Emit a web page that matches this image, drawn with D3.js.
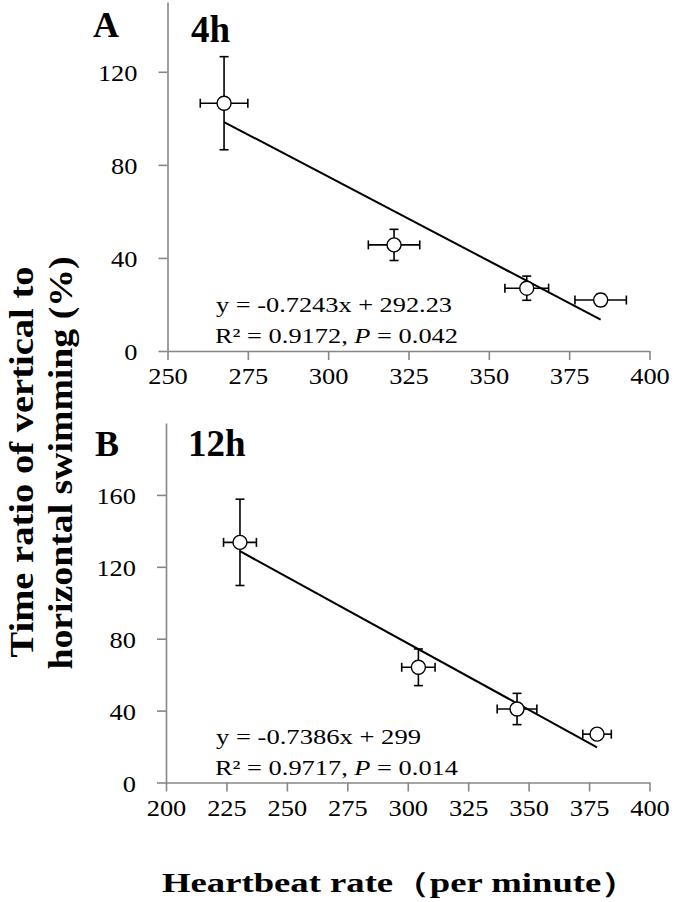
<!DOCTYPE html>
<html>
<head>
<meta charset="utf-8">
<script src="https://cdn.jsdelivr.net/npm/d3@7"></script>
<style>
  html, body { margin: 0; padding: 0; background: #fff; }
  svg { display: block; }
  svg text { font-family: "Liberation Serif", "Times New Roman", serif; fill: #000; }
</style>
</head>
<body>
<svg id="chart" width="675" height="902"></svg>
<script>
// Panel A (4h): heartbeat rate vs time ratio, with SE bars
const rateA   = [267.6, 320.5, 361.8, 384.8];
const ratioA  = [106.5, 45.6, 27.0, 21.9];
const rateErrA  = [7.4, 8.0, 6.8, 8.0];
const ratioErrA = [20.0, 6.7, 5.2, 2.5];
const fitA = { slope: -0.7243, intercept: 292.23 };
const eqA = ['y = -0.7243x + 292.23', '0.9172', '0.042'];

// Panel B (12h)
const rateB   = [230.6, 304.4, 345.2, 378.3];
const ratioB  = [133.6, 64.1, 40.9, 26.9];
const rateErrB  = [6.8, 6.9, 8.2, 5.9];
const ratioErrB = [24.0, 10.2, 8.7, 2.5];
const fitB = { slope: -0.7386, intercept: 299 };
const eqB = ['y = -0.7386x + 299', '0.9717', '0.014'];

const xTicksA = [250, 275, 300, 325, 350, 375, 400];
const yTicksA = [0, 40, 80, 120];
const xTicksB = [200, 225, 250, 275, 300, 325, 350, 375, 400];
const yTicksB = [0, 40, 80, 120, 160];

const svg = d3.select('#chart');
const axisColor = '#878787';
const serif = '"Liberation Serif", "Times New Roman", serif';

function drawPanel(cfg) {
  const x = d3.scaleLinear().domain(cfg.xDomain).range([cfg.left, cfg.right]);
  const y = d3.scaleLinear().domain(cfg.yDomain).range([cfg.bottom, cfg.top]);
  const g = svg.append('g');

  // axes
  const xAxis = g.append('g')
    .attr('transform', `translate(0,${cfg.bottom})`)
    .call(d3.axisBottom(x).tickValues(cfg.xTicks).tickSize(9).tickSizeOuter(0).tickPadding(6));
  const yAxis = g.append('g')
    .attr('transform', `translate(${cfg.left},0)`)
    .call(d3.axisLeft(y).tickValues(cfg.yTicks).tickSize(9).tickSizeOuter(0).tickPadding(21));
  [xAxis, yAxis].forEach(a => {
    a.attr('font-family', null).attr('font-size', null);
    a.select('.domain').attr('stroke', axisColor).attr('stroke-width', 1.6);
    a.selectAll('.tick line').attr('stroke', axisColor).attr('stroke-width', 1.6);
    a.selectAll('.tick text')
      .style('font-family', serif).style('font-size', '24px').attr('fill', '#000')
      // labels in the original are a little wider than plain Times
      .attr('textLength', function() { return this.getComputedTextLength() * 1.1; })
      .attr('lengthAdjust', 'spacingAndGlyphs');
  });
  xAxis.selectAll('.tick text').attr('y', 33).attr('dy', null);
  yAxis.selectAll('.tick text').attr('dy', '0.36em');

  // trend line
  const x0 = d3.min(cfg.rate), x1 = d3.max(cfg.rate);
  g.append('line')
    .attr('x1', x(x0)).attr('y1', y(cfg.fit.slope * x0 + cfg.fit.intercept))
    .attr('x2', x(x1)).attr('y2', y(cfg.fit.slope * x1 + cfg.fit.intercept))
    .attr('stroke', '#000').attr('stroke-width', 2);

  // error bars
  const cap = 4.5;
  cfg.rate.forEach((r, i) => {
    const v = cfg.ratio[i];
    const ex = cfg.rateErr[i], ey = cfg.ratioErr[i];
    const eb = g.append('g').attr('stroke', '#000').attr('stroke-width', 1.6);
    eb.append('line').attr('x1', x(r)).attr('x2', x(r)).attr('y1', y(v - ey)).attr('y2', y(v + ey));
    eb.append('line').attr('x1', x(r) - cap).attr('x2', x(r) + cap).attr('y1', y(v - ey)).attr('y2', y(v - ey));
    eb.append('line').attr('x1', x(r) - cap).attr('x2', x(r) + cap).attr('y1', y(v + ey)).attr('y2', y(v + ey));
    eb.append('line').attr('x1', x(r - ex)).attr('x2', x(r + ex)).attr('y1', y(v)).attr('y2', y(v));
    eb.append('line').attr('x1', x(r - ex)).attr('x2', x(r - ex)).attr('y1', y(v) - cap).attr('y2', y(v) + cap);
    eb.append('line').attr('x1', x(r + ex)).attr('x2', x(r + ex)).attr('y1', y(v) - cap).attr('y2', y(v) + cap);
  });

  // points
  g.selectAll('circle.pt')
    .data(cfg.rate.map((r, i) => [r, cfg.ratio[i]]))
    .join('circle')
      .attr('class', 'pt')
      .attr('cx', d => x(d[0]))
      .attr('cy', d => y(d[1]))
      .attr('r', 7)
      .attr('fill', '#fff')
      .attr('stroke', '#000')
      .attr('stroke-width', 1.4);

  // equation text (stretched wide like the original)
  g.append('text')
    .attr('x', 216).attr('y', cfg.bottom - 39)
    .attr('textLength', cfg.eqLen[0]).attr('lengthAdjust', 'spacingAndGlyphs')
    .style('font-size', '22px').text(cfg.eq[0]);
  const t2 = g.append('text')
    .attr('x', 215).attr('y', cfg.bottom - 8)
    .attr('textLength', cfg.eqLen[1]).attr('lengthAdjust', 'spacingAndGlyphs')
    .style('font-size', '22px');
  t2.append('tspan').text('R² = ' + cfg.eq[1] + ', ');
  t2.append('tspan').style('font-style', 'italic').text('P');
  t2.append('tspan').text(' = ' + cfg.eq[2]);

  // panel letter and time label
  g.append('text').attr('x', cfg.letterX).attr('y', cfg.letterY)
    .style('font-size', '36px').style('font-weight', 'bold').text(cfg.letter);
  g.append('text').attr('x', cfg.timeX).attr('y', cfg.timeY)
    .style('font-size', '37px').style('font-weight', 'bold').text(cfg.time);
}

drawPanel({
  rate: rateA, ratio: ratioA, rateErr: rateErrA, ratioErr: ratioErrA,
  fit: fitA, eq: eqA, eqLen: [236, 243], xTicks: xTicksA, yTicks: yTicksA,
  xDomain: [250, 400], yDomain: [0, 150],
  left: 167.5, right: 649.5, top: 2, bottom: 351,
  letter: 'A', time: '4h', letterX: 93, letterY: 37, timeX: 191, timeY: 42
});

drawPanel({
  rate: rateB, ratio: ratioB, rateErr: rateErrB, ratioErr: ratioErrB,
  fit: fitB, eq: eqB, eqLen: [205, 243], xTicks: xTicksB, yTicks: yTicksB,
  xDomain: [200, 400], yDomain: [0, 200],
  left: 166, right: 649.5, top: 423, bottom: 782.5,
  letter: 'B', time: '12h', letterX: 95, letterY: 456, timeX: 188, timeY: 456
});

// axis titles
svg.append('text')
  .attr('transform', 'translate(33,462) rotate(-90)')
  .attr('text-anchor', 'middle')
  .attr('textLength', 391).attr('lengthAdjust', 'spacingAndGlyphs')
  .style('font-size', '34px').style('font-weight', 'bold')
  .text('Time ratio of vertical to');
svg.append('text')
  .attr('transform', 'translate(72,463) rotate(-90)')
  .attr('text-anchor', 'middle')
  .attr('textLength', 413).attr('lengthAdjust', 'spacingAndGlyphs')
  .style('font-size', '34px').style('font-weight', 'bold')
  .text('horizontal swimming (%)');
svg.append('text')
  .attr('x', 162).attr('y', 892)
  .attr('textLength', 476).attr('lengthAdjust', 'spacingAndGlyphs')
  .style('font-size', '28px').style('font-weight', 'bold')
  .text('Heartbeat rate（per minute）');
</script>
</body>
</html>
